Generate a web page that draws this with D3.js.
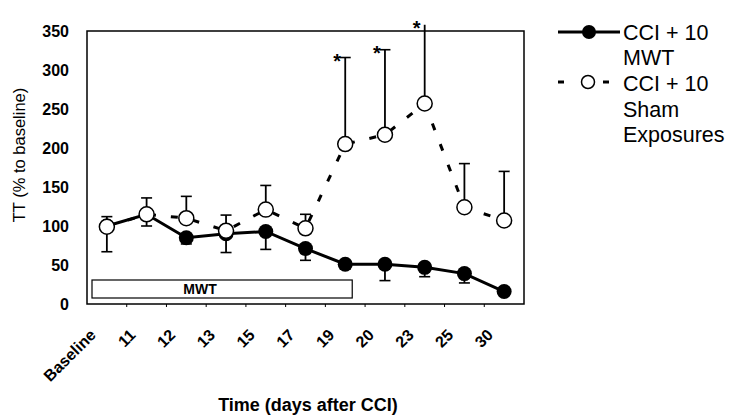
<!DOCTYPE html>
<html><head><meta charset="utf-8">
<script src="https://cdn.jsdelivr.net/npm/d3@7"></script>
<style>
html,body{margin:0;padding:0;background:#fff;}
svg{display:block;font-family:"Liberation Sans",Arial,sans-serif;}
</style></head>
<body>
<svg id="chart" width="738" height="416"></svg>
<script>
const categories = ["Baseline","11","12","13","15","17","19","20","23","25","30"];
const mwtValues   = [100,115,85,90,93,71,51,51,47,39,16];
const mwtErrLow   = [67,100,77,66,70,56,45,30,35,27,12];
const shamValues  = [99,115,110,94,121,97,205,217,257,124,107];
const shamErrHigh = [112,136,138,114,152,115,316,326,358,180,170];
const significant = ["19","20","23"];
const yTicks = [0,50,100,150,200,250,300,350];
const seriesNames = ["CCI + 10|MWT","CCI + 10|Sham|Exposures"];
const barLabel = "MWT";
const barSpan = ["Baseline","19"];

const svg = d3.select("#chart");
const L=87,R=524,T=31,B=304;
const x = d3.scaleBand().domain(categories).range([L,R]).padding(0);
const cx = c => x(c)+x.bandwidth()/2;
const y = d3.scaleLinear().domain([0,350]).range([B,T]);

// frame
svg.append("rect").attr("x",L).attr("y",T).attr("width",R-L).attr("height",B-T)
  .attr("fill","none").attr("stroke","#000").attr("stroke-width",1.5);

// y axis
const ya = svg.append("g").attr("transform",`translate(${L},0)`)
  .call(d3.axisLeft(y).tickValues(yTicks).tickSize(0).tickPadding(18));
ya.select(".domain").remove();
ya.selectAll("text").attr("font-size",16).attr("font-weight","bold")
  .attr("font-family","Liberation Sans, Arial, sans-serif").attr("fill","#000");

// x axis
const xa = svg.append("g").attr("transform",`translate(0,${B})`)
  .call(d3.axisBottom(x).tickSize(0));
xa.select(".domain").remove();
xa.selectAll("text").attr("x",0).attr("y",0).attr("dy",0)
  .attr("transform","translate(-10,32) rotate(-45)")
  .attr("text-anchor","end").attr("font-size",16).attr("font-weight","bold")
  .attr("font-family","Liberation Sans, Arial, sans-serif").attr("fill","#000");
// boundary ticks
svg.append("g").selectAll("line").data(categories.slice(1)).join("line")
  .attr("x1",d=>x(d)).attr("x2",d=>x(d)).attr("y1",B).attr("y2",B+3)
  .attr("stroke","#000").attr("stroke-width",1);

// axis titles
svg.append("text").attr("transform","translate(19,155) rotate(-90)")
  .attr("text-anchor","middle").attr("dominant-baseline","central")
  .attr("font-size",16.5).attr("fill","#000").text("TT (% to baseline)");
svg.append("text").attr("x",308).attr("y",411).attr("text-anchor","middle")
  .attr("font-size",18).attr("font-weight","bold").text("Time (days after CCI)");

// MWT bar
const barX0 = x(barSpan[0])+5, barX1 = cx(barSpan[1])+7;
svg.append("rect").attr("x",barX0).attr("y",280)
  .attr("width",barX1-barX0).attr("height",18)
  .attr("fill","#fff").attr("stroke","#000").attr("stroke-width",1.2);
svg.append("text").attr("x",200).attr("y",289).attr("dominant-baseline","central")
  .attr("text-anchor","middle").attr("font-size",14).attr("font-weight","bold").text(barLabel);

// error bars
const cap = 5.5;
function errBar(g, c, v0, v1){
  g.append("line").attr("x1",cx(c)).attr("x2",cx(c)).attr("y1",y(v0)).attr("y2",y(v1))
    .attr("stroke","#000").attr("stroke-width",1.8);
  if (v1<=350) g.append("line").attr("x1",cx(c)-cap).attr("x2",cx(c)+cap)
    .attr("y1",y(v1)).attr("y2",y(v1)).attr("stroke","#000").attr("stroke-width",1.6);
}
const eg = svg.append("g");
categories.forEach((c,i)=>{
  errBar(eg,c,mwtValues[i],mwtErrLow[i]);
  errBar(eg,c,shamValues[i],shamErrHigh[i]);
});

// asterisks
categories.forEach((c,i)=>{
  if (significant.includes(c)) {
    const top = Math.min(shamErrHigh[i],350+9);
    svg.append("text").attr("x",cx(c)-8).attr("y",y(top)+10)
      .attr("text-anchor","middle").attr("font-size",20).attr("font-weight","bold").text("*");
  }
});

// MWT line
const line = d3.line().x((d,i)=>cx(categories[i])).y(d=>y(d));
svg.append("path").datum(mwtValues).attr("d",line).attr("fill","none")
  .attr("stroke","#000").attr("stroke-width",3);
svg.append("g").selectAll("circle").data(mwtValues).join("circle")
  .attr("cx",(d,i)=>cx(categories[i])).attr("cy",d=>y(d)).attr("r",7.5).attr("fill","#000");

// Sham line
svg.append("path").datum(shamValues).attr("d",line).attr("fill","none")
  .attr("stroke","#000").attr("stroke-width",3).attr("stroke-dasharray","7,15");
svg.append("g").selectAll("circle").data(shamValues).join("circle")
  .attr("cx",(d,i)=>cx(categories[i])).attr("cy",d=>y(d)).attr("r",7.5)
  .attr("fill","#fff").attr("stroke","#000").attr("stroke-width",1.5);

// legend
const lg = svg.append("g");
lg.append("line").attr("x1",558).attr("x2",620).attr("y1",32).attr("y2",32)
  .attr("stroke","#000").attr("stroke-width",3);
lg.append("circle").attr("cx",589).attr("cy",32).attr("r",7).attr("fill","#000");
lg.append("line").attr("x1",558).attr("x2",564).attr("y1",82).attr("y2",82)
  .attr("stroke","#000").attr("stroke-width",3);
lg.append("line").attr("x1",603).attr("x2",609).attr("y1",82).attr("y2",82)
  .attr("stroke","#000").attr("stroke-width",3);
lg.append("circle").attr("cx",588).attr("cy",82).attr("r",6.5).attr("fill","#fff")
  .attr("stroke","#000").attr("stroke-width",1.5);
const legY = [[33,58],[84,110,135]];
seriesNames.forEach((s,k)=>{
  s.split("|").forEach((t,j)=>{
    lg.append("text").attr("x",623).attr("y",legY[k][j]).attr("dominant-baseline","central")
      .attr("font-size",21.5).text(t);
  });
});
</script>
</body></html>
